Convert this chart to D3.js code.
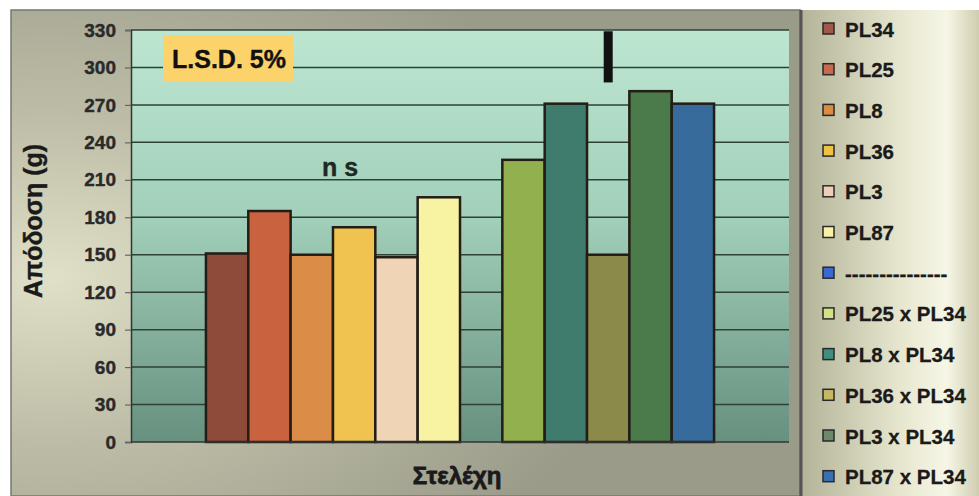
<!DOCTYPE html>
<html><head><meta charset="utf-8">
<script src="https://cdn.jsdelivr.net/npm/d3@7"></script>
<style>html,body{margin:0;padding:0;background:#fff;}svg{display:block;}</style>
</head><body>
<svg id="chart" width="979" height="496"></svg>
<script>
// ---- data ----
const series = ["PL34","PL25","PL8","PL36","PL3","PL87","---------------","PL25 x PL34","PL8 x PL34","PL36 x PL34","PL3 x PL34","PL87 x PL34"];
const values = [151,185,150,172,148,196,0,226,271,150,281,271];
const yTicks = [0,30,60,90,120,150,180,210,240,270,300,330];
const lsdRange = [288,329];      // L.S.D. 5% marker
const lsdSeries = "PL36 x PL34";
const nsLabel = "n s";
const lsdLabel = "L.S.D. 5%";
const yTitle = "Απόδοση (g)";
const xTitle = "Στελέχη";

// ---- style ----
const barColors = ["#8f4b3a","#c8623f","#db8c46","#f0c350","#efd4b6","#f7f3a3","#3a6fc8","#93b04f","#3f7c6d","#8b8a4a","#4b7b4b","#376b9b"];
const legendColors = ["#a05848","#c86a50","#d98c42","#f0c243","#f0cdb6","#f8f2a6","#3a6ad0","#d2e284","#3f8e80","#c6b864","#6a8a6a","#3a70b2"];
const FONT = "'Liberation Sans', Arial, sans-serif";

const svg = d3.select("#chart");
const defs = svg.append("defs");

const bg = defs.append("radialGradient").attr("id","bgGrad").attr("cx","0.05").attr("cy","0.55").attr("r","0.75");
bg.append("stop").attr("offset","0").attr("stop-color","#e0e0c8");
bg.append("stop").attr("offset","0.45").attr("stop-color","#bdbda7");
bg.append("stop").attr("offset","1").attr("stop-color","#9a9b89");

const pg = defs.append("linearGradient").attr("id","plotGrad").attr("x1",0).attr("y1",0).attr("x2",0).attr("y2",1);
pg.append("stop").attr("offset","0").attr("stop-color","#bde6d1");
pg.append("stop").attr("offset","0.45").attr("stop-color","#a2d0ba");
pg.append("stop").attr("offset","1").attr("stop-color","#67907f");

const lg = defs.append("linearGradient").attr("id","legGrad").attr("x1",0).attr("y1",0).attr("x2",1).attr("y2",0);
lg.append("stop").attr("offset","0").attr("stop-color","#b3b398");
lg.append("stop").attr("offset","0.55").attr("stop-color","#e6e6cf");
lg.append("stop").attr("offset","0.82").attr("stop-color","#f6f6e6");
lg.append("stop").attr("offset","1").attr("stop-color","#cfcdb0");

// frames
svg.append("rect").attr("x",11).attr("y",10).attr("width",789).attr("height",486).attr("fill","url(#bgGrad)").attr("stroke","#777").attr("stroke-width",1.5);
svg.append("rect").attr("x",801).attr("y",10).attr("width",178).attr("height",486).attr("fill","url(#legGrad)");
svg.append("line").attr("x1",801).attr("x2",801).attr("y1",10).attr("y2",496).attr("stroke","#555").attr("stroke-width",3);

// scales
const plot = {l:131, r:789, t:30, b:442};
const y = d3.scaleLinear().domain([0,330]).range([plot.b, plot.t]);
const x = d3.scaleBand().domain(series).range([plot.l, plot.r]).paddingInner(0).paddingOuter(1.77);

svg.append("rect").attr("x",plot.l).attr("y",plot.t).attr("width",plot.r-plot.l).attr("height",plot.b-plot.t).attr("fill","url(#plotGrad)");

// gridlines
svg.append("g").selectAll("line").data(yTicks.filter(d=>d>0)).join("line")
  .attr("x1",plot.l).attr("x2",plot.r).attr("y1",d=>y(d)).attr("y2",d=>y(d))
  .attr("stroke","#2f4036").attr("stroke-width",1.5);

// y axis
const yAxis = d3.axisLeft(y).tickValues(yTicks).tickSize(6).tickPadding(9).tickFormat(d3.format("d"));
const ga = svg.append("g").attr("transform",`translate(${plot.l},0)`).call(yAxis);
ga.attr("font-size",19).attr("font-family",FONT);
ga.select(".domain").attr("stroke","#333").attr("stroke-width",1.5);
ga.selectAll(".tick line").attr("stroke","#666").attr("stroke-width",1.2);
ga.selectAll(".tick text").style("font-family",FONT).style("font-weight","bold").style("font-size","19px")
  .attr("fill","#2a2a2a").attr("stroke","#2a2a2a").attr("stroke-width",0.4);

// bars
svg.append("g").selectAll("rect").data(series.map((s,i)=>({s,v:values[i],c:barColors[i]})).filter(d=>d.v>0)).join("rect")
  .attr("x",d=>x(d.s)).attr("width",x.bandwidth())
  .attr("y",d=>y(d.v)).attr("height",d=>y(0)-y(d.v))
  .attr("fill",d=>d.c).attr("stroke","#231d16").attr("stroke-width",2.5);

// x axis line
svg.append("line").attr("x1",plot.l).attr("x2",plot.r).attr("y1",plot.b).attr("y2",plot.b).attr("stroke","#333").attr("stroke-width",1.5);

// LSD marker
const lx = x(lsdSeries) + x.bandwidth()/2;
svg.append("rect").attr("x",lx-4.5).attr("width",9).attr("y",y(lsdRange[1])).attr("height",y(lsdRange[0])-y(lsdRange[1])).attr("fill","#111");

// LSD label box
svg.append("rect").attr("x",163).attr("y",35).attr("width",130).attr("height",47).attr("fill","#fcd26a");
svg.append("text").attr("x",229).attr("y",68).attr("text-anchor","middle").attr("font-family",FONT).attr("font-weight","bold").attr("font-size",25)
  .attr("fill","#111").attr("stroke","#111").attr("stroke-width",0.4).text(lsdLabel);

// n s label
svg.append("text").attr("x",340).attr("y",176).attr("text-anchor","middle").attr("font-family",FONT).attr("font-weight","bold").attr("font-size",25)
  .attr("fill","#1d2a22").attr("stroke","#1d2a22").attr("stroke-width",0.4).text(nsLabel);

// titles
svg.append("text").attr("transform","translate(42,221) rotate(-90)").attr("text-anchor","middle").attr("font-family",FONT).attr("font-weight","bold").attr("font-size",25)
  .attr("fill","#1a1a1a").attr("stroke","#1a1a1a").attr("stroke-width",0.4).text(yTitle);
svg.append("text").attr("x",457).attr("y",484).attr("text-anchor","middle").attr("font-family",FONT).attr("font-weight","bold").attr("font-size",24)
  .attr("fill","#1a1a1a").attr("stroke","#1a1a1a").attr("stroke-width",0.8).text(xTitle);

// legend
const leg = svg.append("g").selectAll("g").data(series.map((s,i)=>({s,c:legendColors[i],i}))).join("g")
  .attr("transform",d=>`translate(823,${29 + d.i*40.7})`);
leg.append("rect").attr("x",0).attr("y",-6).attr("width",11).attr("height",11).attr("fill",d=>d.c).attr("stroke","#2a2a2a").attr("stroke-width",1.5);
leg.append("text").attr("x",22).attr("y",7.5).attr("font-family",FONT).attr("font-weight","bold").attr("font-size",20.5)
  .attr("fill","#1a1a1a").attr("stroke","#1a1a1a").attr("stroke-width",0.3).text(d=>d.s);
</script>
</body></html>
